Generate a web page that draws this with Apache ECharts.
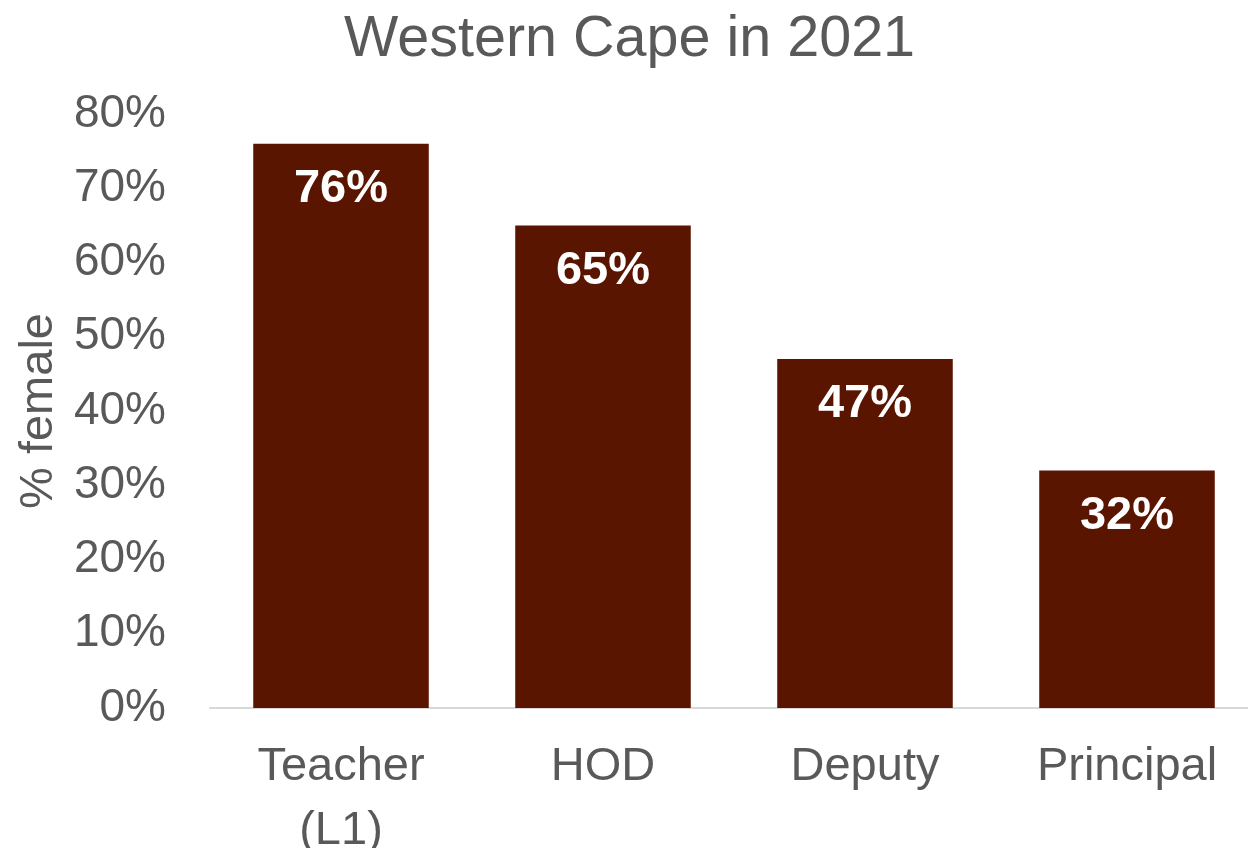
<!DOCTYPE html>
<html>
<head>
<meta charset="utf-8">
<script src="https://cdn.jsdelivr.net/npm/echarts@6/dist/echarts.min.js"></script>
<style>
  html, body { margin: 0; padding: 0; background: #ffffff; }
  #chart { width: 1248px; height: 848px; }
</style>
</head>
<body>
<div id="chart"></div>
<script>
// Share of female staff by post level, Western Cape 2021
const categories = ['Teacher\n(L1)', 'HOD', 'Deputy', 'Principal'];
const femaleShare = [76, 65, 47, 32];
const yTicks = { min: 0, max: 80, interval: 10 };

const FONT = '"Liberation Sans", Arial, Helvetica, sans-serif';
const GREY = '#595959';

const chart = echarts.init(document.getElementById('chart'));
chart.setOption({
  animation: false,
  backgroundColor: '#ffffff',
  title: {
    text: 'Western Cape in 2021',
    left: 339,
    top: 6,
    textStyle: { fontFamily: FONT, fontSize: 57.5, fontWeight: 'normal', color: GREY }
  },
  grid: { left: 210, right: -10, top: 114, bottom: 140, outerBoundsMode: 'none', containLabel: false },
  xAxis: {
    type: 'category',
    data: categories,
    axisLine: { lineStyle: { color: '#d9d9d9', width: 2 } },
    axisTick: { show: false },
    axisLabel: {
      fontFamily: FONT, fontSize: 47, color: GREY,
      lineHeight: 64, margin: 27, interval: 0
    }
  },
  yAxis: {
    type: 'value',
    min: yTicks.min,
    max: yTicks.max,
    interval: yTicks.interval,
    name: '% female',
    nameLocation: 'middle',
    nameGap: 146,
    nameRotate: 90,
    nameTextStyle: { fontFamily: FONT, fontSize: 47, color: GREY },
    axisLine: { show: false },
    axisTick: { show: false },
    splitLine: { show: false },
    axisLabel: {
      fontFamily: FONT, fontSize: 46, color: GREY, margin: 44,
      padding: [8, 0, 0, 0],
      formatter: v => v + '%'
    }
  },
  series: [{
    type: 'bar',
    data: femaleShare,
    barCategoryGap: '33%',
    itemStyle: { color: '#5a1500' },
    label: {
      show: true,
      position: 'insideTop',
      distance: 22,
      fontFamily: FONT, fontSize: 47, fontWeight: 'bold', color: '#ffffff',
      formatter: p => p.value + '%'
    }
  }]
});
</script>
</body>
</html>
